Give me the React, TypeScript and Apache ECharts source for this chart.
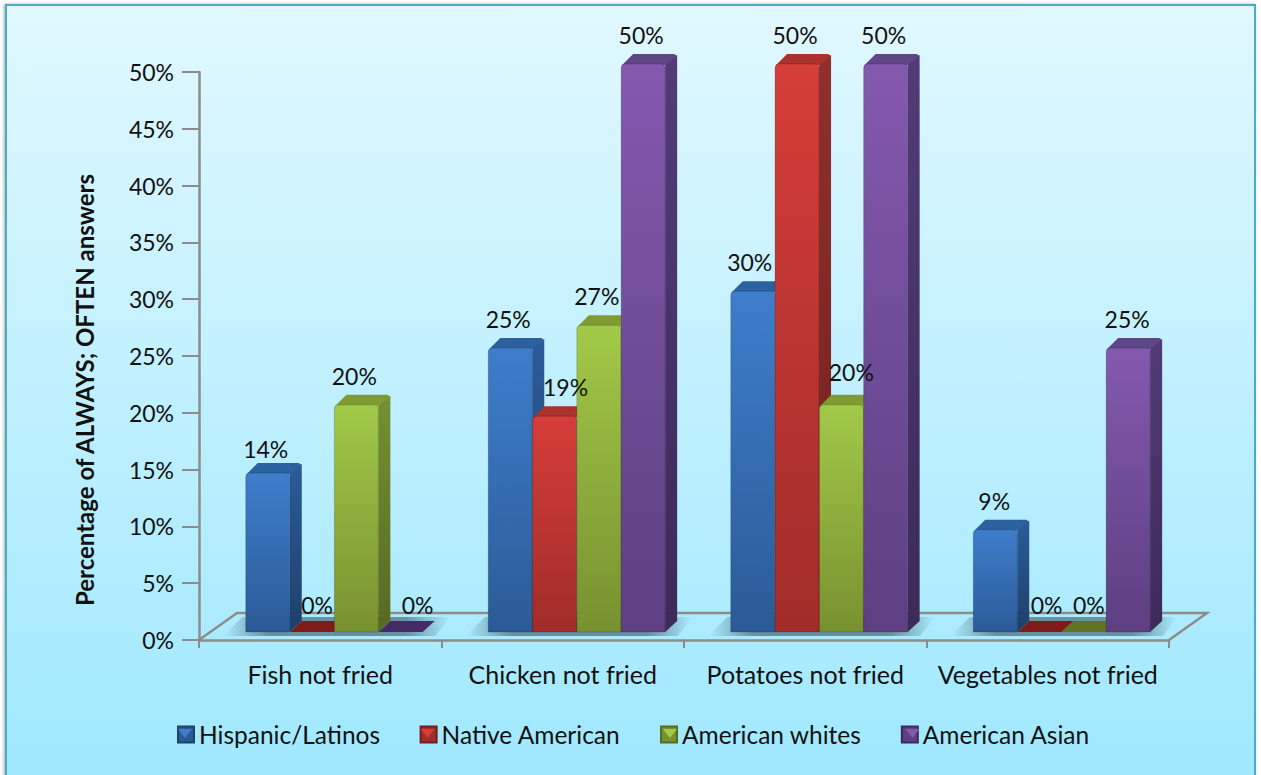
import React, { useEffect, useRef } from "react";
import * as echarts from "echarts";

const categories = ["Fish not fried", "Chicken not fried", "Potatoes not fried", "Vegetables not fried"];
const hispanicLatinos = [14, 25, 30, 9];
const nativeAmerican = [0, 19, 50, 0];
const americanWhites = [20, 27, 20, 0];
const americanAsian = [0, 50, 50, 25];
const groupNames = ["Hispanic/Latinos", "Native American", "American whites", "American Asian"];
const groupValues = [hispanicLatinos, nativeAmerican, americanWhites, americanAsian];
const yAxisTitle = "Percentage of ALWAYS; OFTEN answers";

// Hand-placed nudges for the value labels, per group then per category: [dx, dy]
const labelNudges = [
  [[-2, 5], [-2, 0], [-3, 0], [-1, 0]],
  [[5, 2], [11, 0], [-2, 0], [7, 2]],
  [[-2, 0], [-2, 0], [10, -4], [5, 2]],
  [[17, 2], [-2, 0], [-2, 0], [-1, 0]],
];

const FONT = "Lato, Carlito, 'Noto Sans', sans-serif";
const TEXT = "#111111";
const AXIS = "#8C8C8C";

const palette = [
  { hi: "#3E7DCB", lo: "#2B5B97", top: "#2C619F", sideHi: "#2A5C99", sideLo: "#1E4069", flat: "#234C80" },
  { hi: "#D53D39", lo: "#A12C29", top: "#AB322D", sideHi: "#90302C", sideLo: "#6E1F1D", flat: "#7F1C1A" },
  { hi: "#A2C948", lo: "#789130", top: "#7F9C33", sideHi: "#759033", sideLo: "#566A20", flat: "#607423" },
  { hi: "#8359AD", lo: "#5D3F82", top: "#5F4687", sideHi: "#523B76", sideLo: "#3C2A5A", flat: "#452B66" },
];

const vGrad = (a: string, b: string) =>
  new echarts.graphic.LinearGradient(0, 0, 0, 1, [
    { offset: 0, color: a },
    { offset: 1, color: b },
  ]);

// Pseudo-3D proportions of the bars and the floor
const BAR_W = 44;
const BAR_STEP = 44.3;
const DEPTH_X = 12;
const DEPTH_Y = 11;
const BASE_LIFT = 8;
const FLOOR_DX = 38;
const FLOOR_DY = 27;

// Left edges of the legend swatches, used for their bevel highlight
const SWATCH_X = [177, 419.5, 662, 904.5];
const SWATCH_Y = 728;
const SWATCH = 16;

function renderBar(params: any, api: any) {
  const s = params.seriesIndex - 1;
  const c = api.value(0);
  const v = api.value(1);
  const pos = api.coord([c, v]);
  const base = api.coord([c, 0]);
  const x = pos[0] - 74.5 + s * BAR_STEP;
  const yTop = pos[1] - BASE_LIFT;
  const yBase = base[1] - BASE_LIFT;
  const p = palette[s];

  if (v === 0) {
    return {
      type: "polygon",
      shape: {
        points: [
          [x, yBase],
          [x + DEPTH_X, yBase - DEPTH_Y],
          [x + BAR_W + DEPTH_X, yBase - DEPTH_Y],
          [x + BAR_W, yBase],
        ],
      },
      style: { fill: p.flat },
    };
  }
  return {
    type: "group",
    children: [
      {
        type: "polygon",
        shape: {
          points: [
            [x + BAR_W, yTop],
            [x + BAR_W + DEPTH_X, yTop - DEPTH_Y + 2],
            [x + BAR_W + DEPTH_X, yBase - DEPTH_Y],
            [x + BAR_W, yBase],
          ],
        },
        style: { fill: vGrad(p.sideHi, p.sideLo) },
      },
      {
        type: "polygon",
        shape: {
          points: [
            [x + 1, yTop + 1],
            [x + DEPTH_X, yTop - DEPTH_Y + 1],
            [x + BAR_W + DEPTH_X - 3, yTop - DEPTH_Y + 1],
            [x + BAR_W + DEPTH_X, yTop - DEPTH_Y + 3],
            [x + BAR_W, yTop + 1],
          ],
        },
        style: { fill: p.top },
      },
      {
        type: "rect",
        shape: { x, y: yTop, width: BAR_W, height: yBase - yTop, r: [4, 4, 0, 0] },
        style: { fill: vGrad(p.hi, p.lo), stroke: "rgba(0,0,0,0.18)", lineWidth: 1 },
      },
    ],
  };
}

function renderFloor(params: any, api: any) {
  const { x, y, width, height } = params.coordSys;
  const y0 = y + height;
  const band = width / categories.length;
  const shadow = categories.map((_, i) => {
    const cx = x + band * (i + 0.5);
    return {
      type: "polygon",
      shape: {
        points: [
          [cx - 97, y0 - 4],
          [cx - 78, y0 - 23],
          [cx + 130, y0 - 23],
          [cx + 115, y0 - 4],
        ],
      },
      style: {
        fill: new echarts.graphic.LinearGradient(0, 0, 1, 0, [
          { offset: 0, color: "rgba(90,130,145,0)" },
          { offset: 0.2, color: "rgba(90,130,145,0.85)" },
          { offset: 0.8, color: "rgba(90,130,145,0.85)" },
          { offset: 1, color: "rgba(90,130,145,0)" },
        ]),
      },
    };
  });
  return {
    type: "group",
    children: [
      {
        type: "polyline",
        shape: {
          points: [
            [x, y0],
            [x + FLOOR_DX, y0 - FLOOR_DY],
            [x + width + FLOOR_DX, y0 - FLOOR_DY],
            [x + width, y0],
          ],
        },
        style: { fill: "none", stroke: AXIS, lineWidth: 2.5 },
      },
      ...shadow,
    ],
  };
}

function renderValueLabel(params: any, api: any) {
  const c = api.value(0);
  const s = api.value(1);
  const v = api.value(2);
  const pos = api.coord([c, v]);
  const nudge = labelNudges[s][c];
  return {
    type: "text",
    style: {
      text: `${v}%`,
      x: pos[0] - 74.5 + s * BAR_STEP + BAR_W / 2 + nudge[0],
      y: pos[1] - BASE_LIFT - 29 + nudge[1],
      align: "center",
      verticalAlign: "middle",
      fill: TEXT,
      font: `23px ${FONT}`,
    },
  };
}

export default function App() {
  const ref = useRef<HTMLDivElement>(null);

  useEffect(() => {
    document.body.style.margin = "0";
    const chart = echarts.init(ref.current!, undefined, { renderer: "svg" });
    const barRows = (values: number[]) => values.map((v, c) => [c, v]);
    const labelRows = groupValues.flatMap((values, s) => values.map((v, c) => [c, s, v]));

    chart.setOption({
      animation: false,
      graphic: [
        {
          type: "rect",
          z: -10,
          shape: { x: 6, y: 5, width: 1249, height: 790 },
          style: {
            fill: new echarts.graphic.LinearGradient(0, 0, 0, 1, [
              { offset: 0, color: "#E1F8FF" },
              { offset: 1, color: "#9EE8FF" },
            ]),
            stroke: "#4BACC6",
            lineWidth: 2,
            shadowColor: "rgba(0,0,0,0.35)",
            shadowBlur: 3,
            shadowOffsetX: -1,
          },
        },
        {
          type: "text",
          x: 84,
          y: 390,
          rotation: Math.PI / 2,
          style: {
            text: yAxisTitle,
            align: "center",
            verticalAlign: "middle",
            fill: TEXT,
            font: `bold 24px ${FONT}`,
          },
        },
        ...SWATCH_X.map((x, s) => ({
          type: "polygon",
          z: 10,
          silent: true,
          shape: {
            points: [
              [x + 1, SWATCH_Y + 1],
              [x + SWATCH - 1, SWATCH_Y + 1],
              [x + SWATCH / 2, SWATCH_Y + 10],
            ],
          },
          style: { fill: palette[s].hi },
        })),
      ],
      grid: { left: 199, right: 92, top: 72, bottom: 135 },
      legend: {
        left: 172,
        top: 717,
        icon: "rect",
        itemWidth: SWATCH,
        itemHeight: SWATCH,
        itemGap: 39.5,
        data: groupNames,
        textStyle: { fontFamily: FONT, fontSize: 24.5, color: TEXT },
      },
      xAxis: {
        type: "category",
        data: categories,
        axisLine: { lineStyle: { color: AXIS, width: 2.5 } },
        axisTick: { show: true, interval: 0, length: 8, lineStyle: { color: AXIS, width: 2 } },
        axisLabel: { interval: 0, fontFamily: FONT, fontSize: 25, color: TEXT, margin: 21 },
      },
      yAxis: {
        type: "value",
        min: 0,
        max: 50,
        interval: 5,
        splitLine: { show: false },
        axisLine: { show: true, lineStyle: { color: AXIS, width: 2.5 } },
        axisTick: { show: true, length: 17, lineStyle: { color: AXIS, width: 2 } },
        axisLabel: { fontFamily: FONT, fontSize: 23, color: TEXT, margin: 25, formatter: "{value}%" },
      },
      series: [
        { type: "custom", name: "floor", z: 1, silent: true, clip: false, data: [[0]], renderItem: renderFloor },
        ...groupNames.map((name, s) => ({
          type: "custom",
          name,
          z: 2,
          data: barRows(groupValues[s]),
          encode: { x: 0, y: 1 },
          itemStyle: { color: palette[s].lo, borderColor: palette[s].sideLo, borderWidth: 1 },
          renderItem: renderBar,
        })),
        {
          type: "custom",
          name: "value labels",
          z: 5,
          silent: true,
          clip: false,
          data: labelRows,
          encode: { x: 0, y: 2 },
          renderItem: renderValueLabel,
        },
      ],
    });
    return () => chart.dispose();
  }, []);

  return <div ref={ref} style={{ width: 1261, height: 775 }} />;
}
